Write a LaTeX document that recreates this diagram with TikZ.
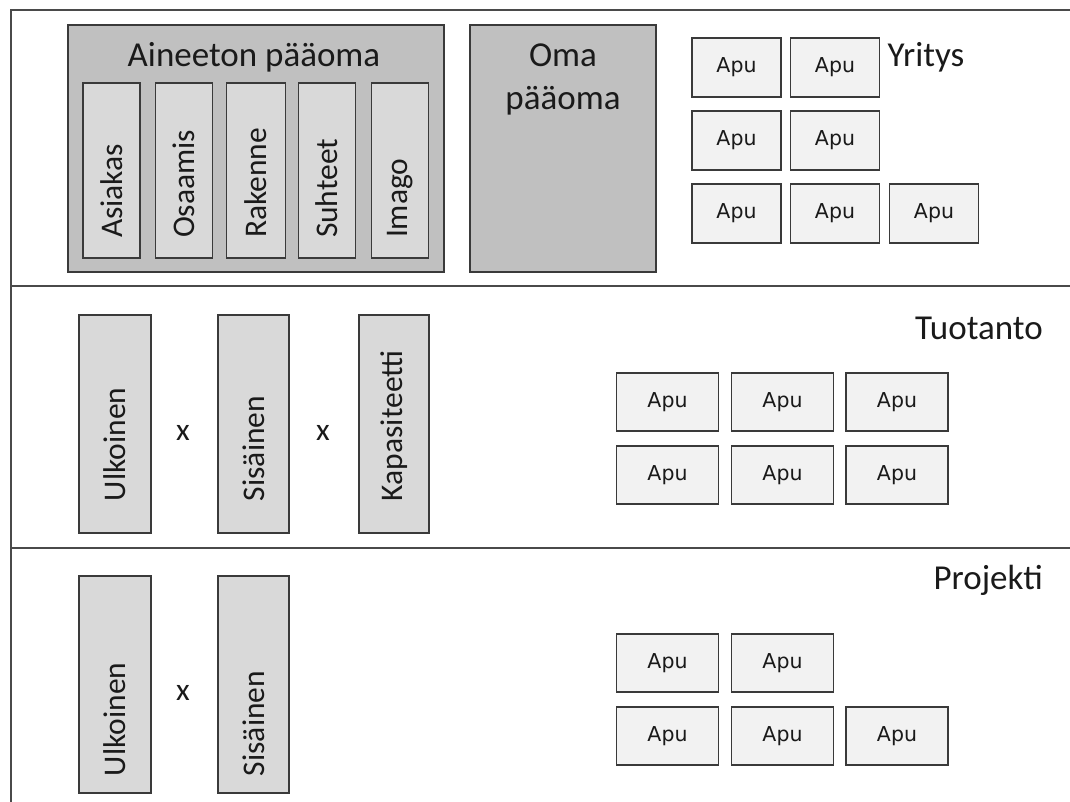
\documentclass[tikz,border=0pt]{standalone}
\usepackage{fontspec}
\setmainfont{Carlito}
\newfontfamily\apufont{DejaVu Sans}
\definecolor{midgray}{HTML}{C0C0C0}
\definecolor{tallfill}{HTML}{D9D9D9}
\definecolor{apufill}{HTML}{F2F2F2}
\definecolor{edgecol}{HTML}{3A3A3A}
\definecolor{framecol}{HTML}{4A4A4A}
\definecolor{textcol}{HTML}{1A1A1A}
\begin{document}
\begin{tikzpicture}[x=1pt,y=-1pt,
  frameline/.style={draw=framecol, line width=2.2pt},
  bigbox/.style={draw=edgecol, line width=1.8pt, fill=midgray, inner sep=0pt},
  tallbox/.style={draw=edgecol, line width=1.6pt, fill=tallfill, rotate=90, inner ysep=0pt, align=left, text=textcol, font=\fontsize{31.5}{36}\selectfont},
  apubox/.style={draw=edgecol, line width=1.5pt, fill=apufill, inner sep=0pt, text=textcol, font=\apufont\fontsize{20.5}{22}\selectfont},
  yapu/.style={apubox, minimum width=89pt, minimum height=59pt},
  tapu/.style={apubox, minimum width=102pt, minimum height=58pt},
  heading/.style={inner sep=0pt, text=textcol, font=\fontsize{35}{43}\selectfont},
  times/.style={inner sep=0pt, text=textcol, font=\fontsize{31.5}{36}\selectfont}
]
\useasboundingbox (0,0) rectangle (1070,802);

% frame
\draw[frameline] (11,802) -- (11,10) -- (1070,10);
\draw[frameline] (11,286) -- (1070,286);
\draw[frameline] (11,548) -- (1070,548);

% Yritys section
\node[bigbox, minimum width=376pt, minimum height=247pt] (aineeton) at (256,148.5) {};
\node[heading] (aineetontitle) at (254,57) {Aineeton pääoma};
\node[tallbox, minimum width=175pt, minimum height=57pt, text width=135pt, inner xsep=20pt] (asiakas) at (111.5,170.5) {Asiakas};
\node[tallbox, minimum width=175pt, minimum height=57pt, text width=135pt, inner xsep=20pt] (osaamis) at (184,170.5) {Osaamis};
\node[tallbox, minimum width=175pt, minimum height=59pt, text width=135pt, inner xsep=20pt] (rakenne) at (256,170.5) {Rakenne};
\node[tallbox, minimum width=175pt, minimum height=57pt, text width=135pt, inner xsep=20pt] (suhteet) at (327,170.5) {Suhteet};
\node[tallbox, minimum width=175pt, minimum height=57pt, text width=135pt, inner xsep=20pt] (imago) at (400,170.5) {Imago};

\node[bigbox, minimum width=186pt, minimum height=247pt] (oma) at (563,148.5) {};
\node[heading, align=center, anchor=north] (omatext) at (563,44) {Oma\\pääoma};

\node[heading] (yritys) at (926,57) {Yritys};
\node[yapu] (y11) at (736.5,67.5) {Apu};
\node[yapu] (y12) at (835,67.5) {Apu};
\node[yapu] (y21) at (736.5,140.5) {Apu};
\node[yapu] (y22) at (835,140.5) {Apu};
\node[yapu] (y31) at (736.5,213.5) {Apu};
\node[yapu] (y32) at (835,213.5) {Apu};
\node[yapu] (y33) at (934,213.5) {Apu};

% Tuotanto section
\node[tallbox, minimum width=218pt, minimum height=72pt, text width=154pt, inner xsep=32pt] (tulk) at (115,424) {Ulkoinen};
\node[times] (tx1) at (183,433) {x};
\node[tallbox, minimum width=218pt, minimum height=71pt, text width=154pt, inner xsep=32pt] (tsis) at (253.5,424) {Sisäinen};
\node[times] (tx2) at (323,433) {x};
\node[tallbox, minimum width=218pt, minimum height=70pt, text width=154pt, inner xsep=32pt] (tkap) at (394,424) {Kapasiteetti};

\node[heading, anchor=east] (tuotanto) at (1043,328) {Tuotanto};
\node[tapu] (t11) at (667.5,402) {Apu};
\node[tapu] (t12) at (782.5,402) {Apu};
\node[tapu] (t13) at (897,402) {Apu};
\node[tapu] (t21) at (667.5,475) {Apu};
\node[tapu] (t22) at (782.5,475) {Apu};
\node[tapu] (t23) at (897,475) {Apu};

% Projekti section
\node[tallbox, minimum width=217pt, minimum height=72pt, text width=183pt, inner xsep=17pt] (pulk) at (115,684.5) {Ulkoinen};
\node[times] (px1) at (183,693) {x};
\node[tallbox, minimum width=217pt, minimum height=71pt, text width=183pt, inner xsep=17pt] (psis) at (253.5,684.5) {Sisäinen};

\node[heading, anchor=east] (projekti) at (1043,580) {Projekti};
\node[tapu] (p11) at (667.5,663) {Apu};
\node[tapu] (p12) at (782.5,663) {Apu};
\node[tapu] (p21) at (667.5,736) {Apu};
\node[tapu] (p22) at (782.5,736) {Apu};
\node[tapu] (p23) at (897,736) {Apu};
\end{tikzpicture}
\end{document}
